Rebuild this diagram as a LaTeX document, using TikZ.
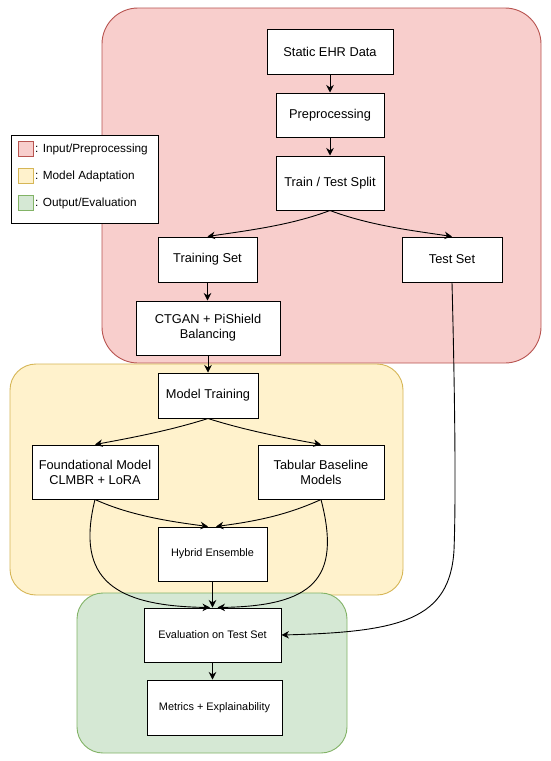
\documentclass[tikz,border=0pt]{standalone}
\usepackage{fontspec}
\setmainfont{Liberation Sans}
\usetikzlibrary{arrows.meta}
\definecolor{redfill}{HTML}{F8CECC}
\definecolor{redline}{HTML}{B85450}
\definecolor{yelfill}{HTML}{FFF2CC}
\definecolor{yelline}{HTML}{D6B656}
\definecolor{grnfill}{HTML}{D5E8D4}
\definecolor{grnline}{HTML}{82B366}
\tikzset{
  stepbox/.style={draw=black, fill=white, line width=1pt, align=center, inner sep=0pt,
    font=\fontsize{12.8}{15}\selectfont},
  smallbox/.style={stepbox, font=\fontsize{10.9}{13}\selectfont},
  region/.style={line width=0.9pt, rounded corners=#1},
  conn/.style={draw=black, line width=0.9pt, -{Stealth[length=7.5pt,width=7.5pt,inset=2.4pt]}},
  legsq/.style={minimum width=15pt, minimum height=15pt, inner sep=0pt, line width=0.8pt},
  legtxt/.style={anchor=west, inner sep=0pt, font=\fontsize{11.8}{13}\selectfont}
}
\begin{document}
\begin{tikzpicture}[x=1pt,y=-1pt]
\useasboundingbox (0,0) rectangle (550,761);
\fill[white] (0,0) rectangle (550,761);
% regions
\draw[region=36pt, fill=redfill, draw=redline] (102,8) rectangle (541,363);
\draw[region=26pt, fill=yelfill, draw=yelline] (10,364) rectangle (403,595);
\draw[region=26pt, fill=grnfill, draw=grnline] (77,593) rectangle (347,753);
% legend
\node[draw=black, fill=white, line width=0.8pt, minimum width=147pt, minimum height=88pt, inner sep=0pt] (legend) at (84.5,179) {};
\node[legsq, fill=redfill, draw=redline] (sq1) at (25.5,149) {};
\node[legsq, fill=yelfill, draw=yelline] (sq2) at (25.5,176) {};
\node[legsq, fill=grnfill, draw=grnline] (sq3) at (25.5,203) {};
\node[legtxt] (lt1) at (35,149) {: Input/Preprocessing};
\node[legtxt] (lt2) at (35,176) {: Model Adaptation};
\node[legtxt] (lt3) at (35,203) {: Output/Evaluation};
% nodes
\node[stepbox, minimum width=126pt, minimum height=45pt] (ehr) at (330,51.5) {Static EHR Data};
\node[stepbox, minimum width=108pt, minimum height=44pt] (prep) at (330,115) {Preprocessing};
\node[stepbox, minimum width=108pt, minimum height=54pt] (split) at (330,183) {Train / Test Split};
\node[stepbox, minimum width=99pt, minimum height=45pt] (train) at (207.5,259.5) {Training Set};
\node[stepbox, minimum width=100pt, minimum height=45pt] (test) at (452,259.5) {Test Set};
\node[stepbox, minimum width=144pt, minimum height=54pt] (ctgan) at (208,328) {CTGAN + PiShield\\Balancing};
\node[stepbox, minimum width=100pt, minimum height=45pt] (mtrain) at (208,395.5) {Model Training};
\node[stepbox, minimum width=126pt, minimum height=54pt] (found) at (95,472) {Foundational Model\\CLMBR + LoRA};
\node[stepbox, minimum width=126pt, minimum height=54pt] (tab) at (321,472) {Tabular Baseline\\Models};
\node[smallbox, minimum width=109pt, minimum height=54pt] (hyb) at (212.5,554) {Hybrid Ensemble};
\node[smallbox, minimum width=137pt, minimum height=54pt] (eval) at (212.5,635) {Evaluation on Test Set};
\node[smallbox, minimum width=135pt, minimum height=55pt] (metr) at (214.5,707.5) {Metrics + Explainability};
% connectors
\draw[conn] (ehr.south) -- (prep.north);
\draw[conn] (prep.south) -- (split.north);
\draw[conn] (split.south) .. controls +(-40,15) and +(40,-6) .. (train.north);
\draw[conn] (split.south) .. controls +(40,15) and +(-40,-6) .. (test.north);
\draw[conn] (train.south) -- ([xshift=-0.5pt]ctgan.north);
\draw[conn] (ctgan.south) -- (mtrain.north);
\draw[conn] (mtrain.south) .. controls +(-38,12) and +(38,-7) .. (found.north);
\draw[conn] (mtrain.south) .. controls +(38,12) and +(-38,-7) .. (tab.north);
\draw[conn] (found.south) .. controls +(35,16) and +(-38,-5) .. ([xshift=-4.5pt]hyb.north);
\draw[conn] (tab.south) .. controls +(-35,16) and +(38,-5) .. ([xshift=3.5pt]hyb.north);
\draw[conn] (found.south) .. controls (75,580) and (115,606) .. ([xshift=-2.5pt]eval.north);
\draw[conn] (tab.south) .. controls (342,580) and (312,606) .. ([xshift=5pt]eval.north);
\draw[conn] (hyb.south) -- (eval.north);
\draw[conn] (eval.south) -- (eval.south |- metr.north);
\draw[conn] (test.south) .. controls (455,400) and (456,500) .. (454,550) .. controls (450,620) and (400,632) .. (eval.east);
\end{tikzpicture}
\end{document}
